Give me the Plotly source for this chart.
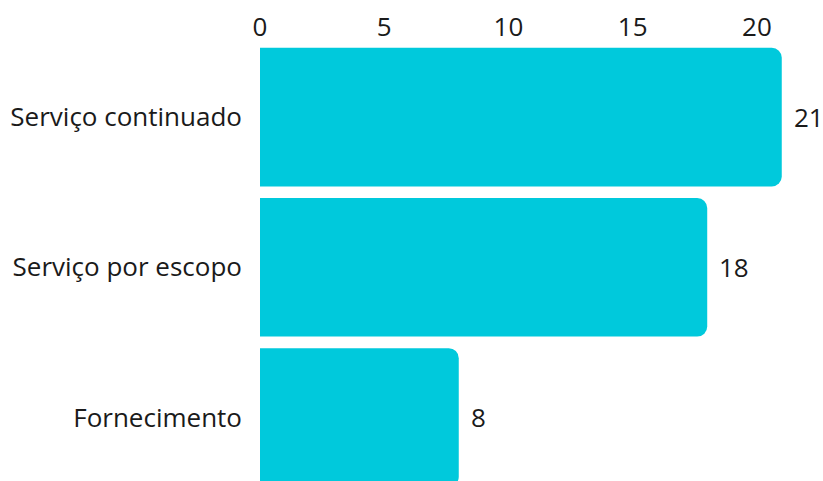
import plotly.graph_objects as go

categories = ["Serviço continuado", "Serviço por escopo", "Fornecimento"]
values = [21, 18, 8]
tick_vals = [0, 5, 10, 15, 20]

BAR_COLOR = "#00C9DC"
TEXT_COLOR = "#1a1a1a"
FONT = "Open Sans"
FS = 26

fig = go.Figure()
fig.add_trace(go.Bar(
    x=values,
    y=categories,
    orientation="h",
    marker=dict(color=BAR_COLOR, line=dict(width=0)),
    hoverinfo="skip",
))

for c, v in zip(categories, values):
    fig.add_annotation(
        x=v, y=c, text=str(v), showarrow=False,
        xanchor="left", yanchor="middle", xshift=10,
        font=dict(family=FONT, size=FS, color=TEXT_COLOR),
    )

fig.update_layout(
    width=823, height=481,
    margin=dict(l=260, r=0, t=42, b=0, autoexpand=False),
    paper_bgcolor="white", plot_bgcolor="white",
    bargap=0.077,
    barcornerradius=10,
    showlegend=False,
    font=dict(family=FONT, size=FS, color=TEXT_COLOR),
    xaxis=dict(
        side="top", range=[0, 22.66], tickvals=tick_vals,
        showgrid=False, zeroline=False, showline=False, ticks="",
        tickfont=dict(family=FONT, size=FS, color=TEXT_COLOR),
    ),
    yaxis=dict(
        range=[2.423, -0.5], showgrid=False, zeroline=False, showline=False,
        ticks="", ticklabelstandoff=17,
        tickfont=dict(family=FONT, size=FS, color=TEXT_COLOR),
    ),
)

fig.write_html(
    "out.html",
    config={"displayModeBar": False},
    post_script="document.body.style.margin='0';document.body.style.overflow='hidden';",
)
